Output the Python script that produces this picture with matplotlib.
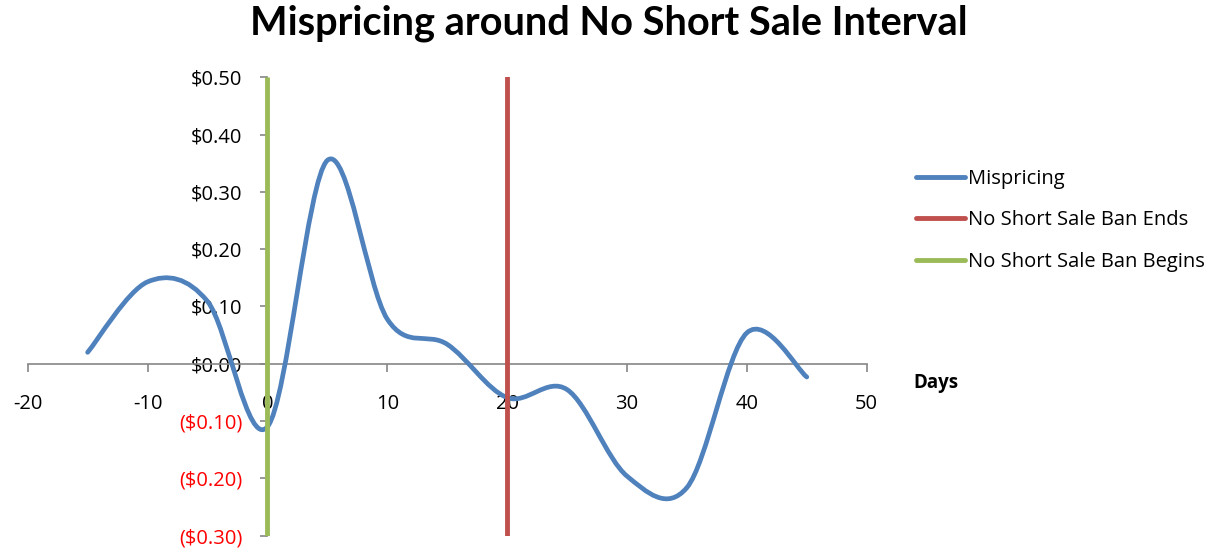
import matplotlib
matplotlib.use("Agg")
import matplotlib.pyplot as plt
from matplotlib.path import Path
from matplotlib.patches import PathPatch
from matplotlib.lines import Line2D
from matplotlib.ticker import FuncFormatter
import numpy as np

# ---- data ----
days = [-15, -10, -5, 0, 5, 10, 15, 20, 25, 30, 35, 40, 45]
mispricing = [0.020, 0.143, 0.109, -0.110, 0.355, 0.078, 0.034, -0.059, -0.045,
              -0.196, -0.216, 0.054, -0.023]
ban_begins_x = [0, 0]
ban_begins_y = [-0.30, 0.50]
ban_ends_x = [20, 20]
ban_ends_y = [-0.30, 0.50]
x_ticks = [-20, -10, 0, 10, 20, 30, 40, 50]
y_ticks = [-0.30, -0.20, -0.10, 0.00, 0.10, 0.20, 0.30, 0.40, 0.50]
series_labels = ["Mispricing", "No Short Sale Ban Ends", "No Short Sale Ban Begins"]
title = "Mispricing around No Short Sale Interval"
x_label = "Days"

BLUE = "#4F81BD"
RED = "#C0504D"
GREEN = "#9BBB59"
AXIS_GRAY = "#868686"
FONT = "Open Sans"

plt.rcParams["font.family"] = [FONT, "DejaVu Sans"]
plt.rcParams["axes.unicode_minus"] = False


def smooth_path(x, y):
    """Excel-style smoothed line: cubic Bezier segments through each point."""
    pts = np.column_stack([x, y]).astype(float)
    n = len(pts)
    verts = [pts[0]]
    codes = [Path.MOVETO]
    for i in range(n - 1):
        p0 = pts[i - 1] if i > 0 else pts[i]
        p1 = pts[i]
        p2 = pts[i + 1]
        p3 = pts[i + 2] if i + 2 < n else pts[i + 1]
        c1 = p1 + (p2 - p0) / 6.0
        c2 = p2 - (p3 - p1) / 6.0
        verts += [c1, c2, p2]
        codes += [Path.CURVE4] * 3
    return Path(verts, codes)


fig = plt.figure(figsize=(12.17, 5.5), dpi=100)
ax = fig.add_axes([0.02276, 0.026, 0.6894, 0.8335])
ax.set_xlim(-20, 50)
ax.set_ylim(-0.30, 0.50)

patch = PathPatch(smooth_path(days, mispricing), fill=False, edgecolor=BLUE,
                  lw=3.4, capstyle="round", joinstyle="round", zorder=3)
ax.add_patch(patch)
ax.plot(ban_ends_x, ban_ends_y, color=RED, lw=3.5, solid_capstyle="round", zorder=4)
ax.plot(ban_begins_x, ban_begins_y, color=GREEN, lw=3.5, solid_capstyle="butt", zorder=4)

# axes through the origin
for s in ["top", "right"]:
    ax.spines[s].set_visible(False)
ax.spines["left"].set_position(("data", 0))
ax.spines["bottom"].set_position(("data", 0))
ax.spines["left"].set_color(AXIS_GRAY)
ax.spines["bottom"].set_color(AXIS_GRAY)
ax.spines["left"].set_linewidth(1.2)
ax.spines["bottom"].set_linewidth(1.2)

ax.set_xticks(x_ticks)
ax.set_yticks(y_ticks)
ax.tick_params(axis="x", direction="out", length=5.8, width=1.2, color=AXIS_GRAY,
               labelsize=14.5, pad=16)
ax.tick_params(axis="y", direction="out", length=5, width=1.2, color=AXIS_GRAY,
               labelsize=14.5, pad=13)


def money(v, pos=None):
    if v < -1e-9:
        return "(${:.2f})".format(-v)
    return "${:.2f}".format(abs(v))


ax.yaxis.set_major_formatter(FuncFormatter(money))
fig.canvas.draw()
for lab, v in zip(ax.get_yticklabels(), y_ticks):
    lab.set_color("#FF0000" if v < 0 else "black")

fig.text(0.5, 0.958, title, ha="center", va="center", fontsize=28.6,
         fontweight="bold", family=["Lato", "DejaVu Sans"])

fig.text(913 / 1217, 1 - 383 / 550, x_label, ha="left", va="center", fontsize=13.5,
         fontweight="bold")

handles = [Line2D([], [], color=BLUE, lw=3.5, solid_capstyle="round"),
           Line2D([], [], color=RED, lw=3.5, solid_capstyle="round"),
           Line2D([], [], color=GREEN, lw=3.5, solid_capstyle="round")]
fig.legend(handles, series_labels, loc="upper left",
           bbox_to_anchor=(908 / 1217, 1 - 160.5 / 550), frameon=False,
           fontsize=14.5, handlelength=2.45, handletextpad=0.15, labelspacing=1.07,
           borderaxespad=0)

fig.savefig("out.png", dpi=100)
